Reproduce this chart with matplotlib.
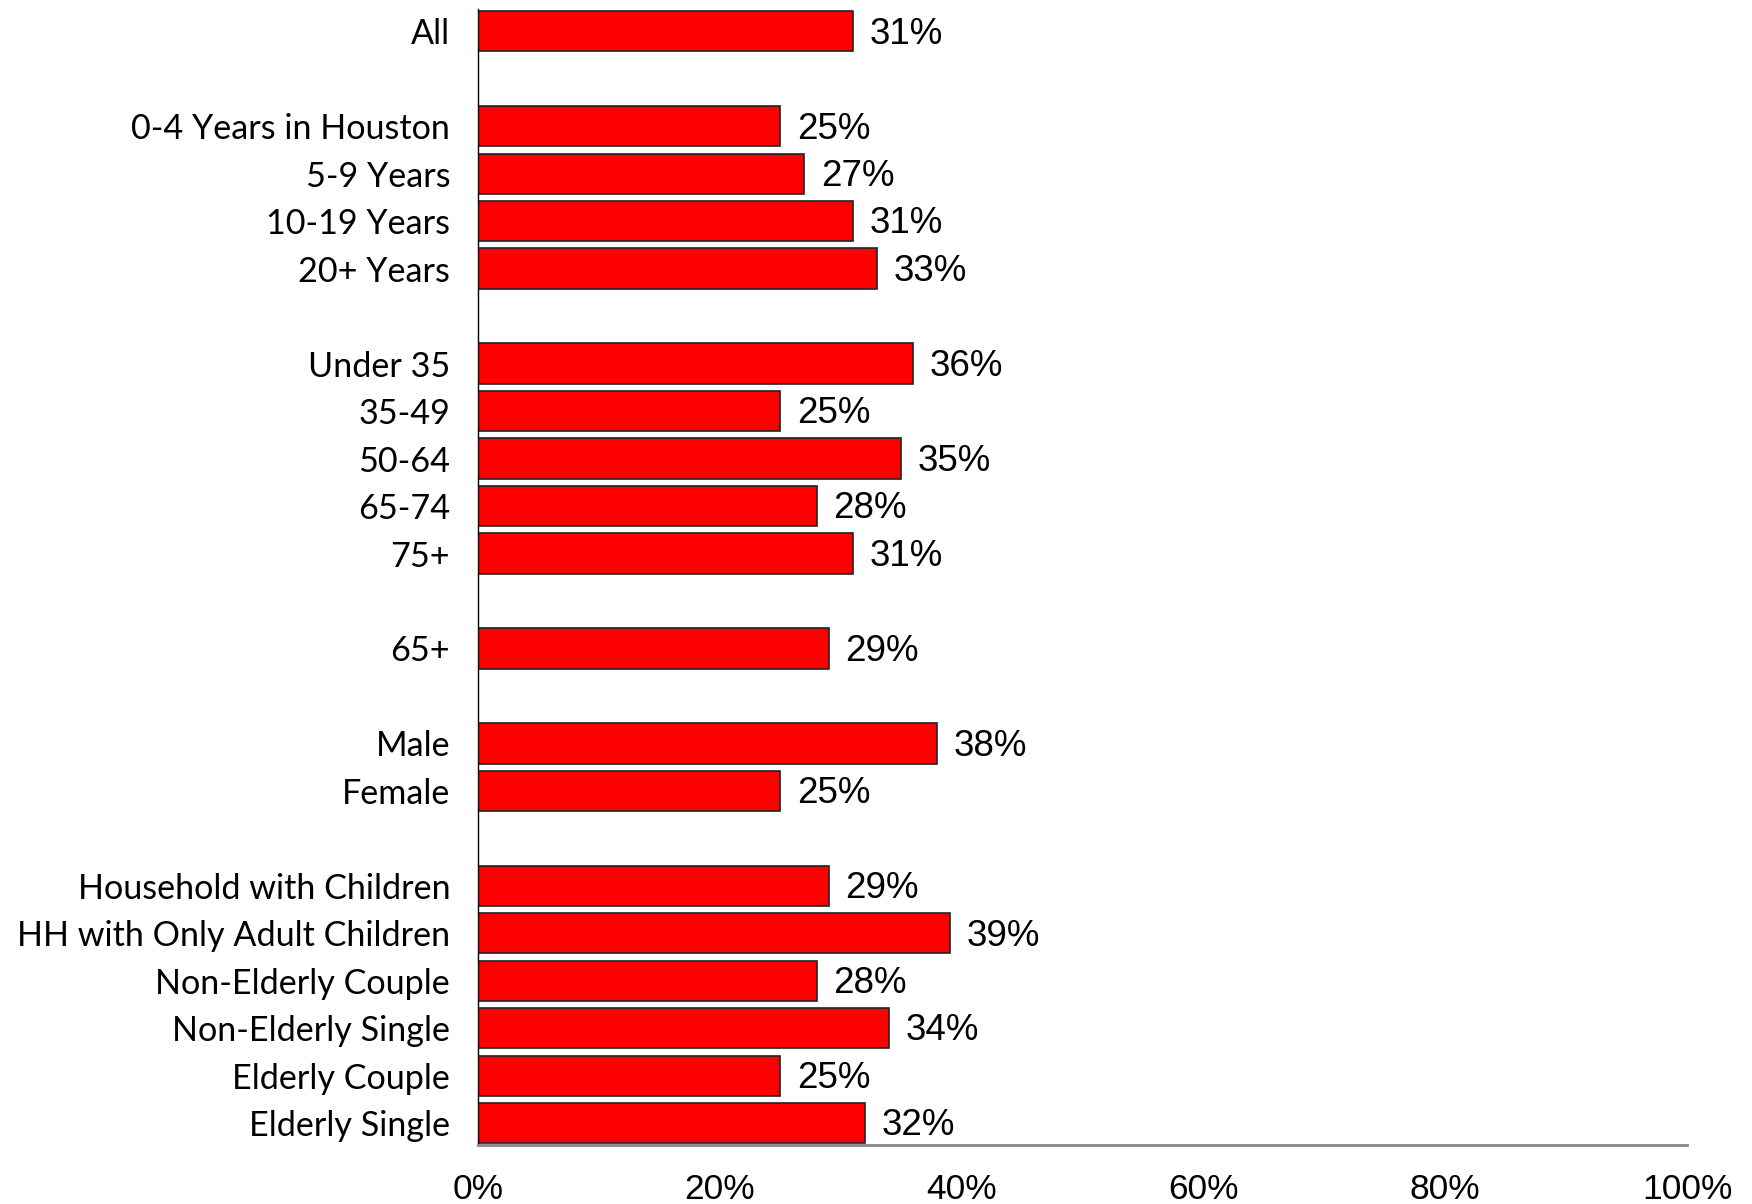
import matplotlib
matplotlib.use("Agg")
import matplotlib.pyplot as plt

categories = ["All", "", "0-4 Years in Houston", "5-9 Years", "10-19 Years", "20+ Years", "",
              "Under 35", "35-49", "50-64", "65-74", "75+", "", "65+", "",
              "Male", "Female", "", "Household with Children", "HH with Only Adult Children",
              "Non-Elderly Couple", "Non-Elderly Single", "Elderly Couple", "Elderly Single"]
values = [0.31, None, 0.25, 0.27, 0.31, 0.33, None,
          0.36, 0.25, 0.35, 0.28, 0.31, None, 0.29, None,
          0.38, 0.25, None, 0.29, 0.39, 0.28, 0.34, 0.25, 0.32]
xticks = [0, 0.2, 0.4, 0.6, 0.8, 1.0]
xticklabels = ["0%", "20%", "40%", "60%", "80%", "100%"]

fig = plt.figure(figsize=(17.52, 12.04), dpi=100)
ax = fig.add_axes([478/1752, 1 - 1145/1204, (1687-478)/1752, (1145-9)/1204])

pos = [i for i, v in enumerate(values) if v is not None]
vals = [v for v in values if v is not None]
ax.barh(pos, vals, height=0.85, color="#FF0000", edgecolor="#222222", linewidth=1.2)

for p, v in zip(pos, vals):
    ax.annotate(f"{round(v*100)}%", (v, p), xytext=(12, -2), textcoords="offset points",
                ha="left", va="center", fontsize=26.5, family="Liberation Sans", color="black")

ax.set_ylim(len(categories) - 1 + 0.46, -0.47)
ax.set_xlim(0, 1)
ax.set_yticks(range(len(categories)))
ax.set_yticklabels(categories, family="Lato", fontsize=24.6)
ax.tick_params(axis="y", length=0, pad=20)
ax.set_xticks(xticks)
ax.set_xticklabels(xticklabels, family="Liberation Sans", fontsize=25.5)
ax.tick_params(axis="x", length=0, pad=20)

for s in ["top", "right"]:
    ax.spines[s].set_visible(False)
ax.spines["left"].set_color("black")
ax.spines["left"].set_linewidth(1.0)
ax.spines["bottom"].set_color("#888888")
ax.spines["bottom"].set_linewidth(2.0)

fig.savefig("out.png", dpi=100)
